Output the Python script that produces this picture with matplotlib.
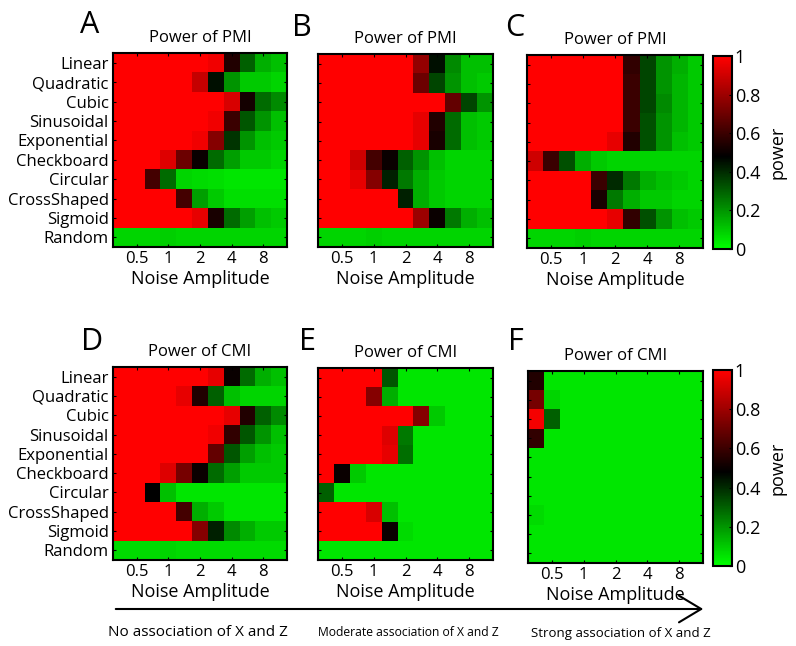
import numpy as np
import matplotlib
matplotlib.use("Agg")
from matplotlib import pyplot as plt
from matplotlib.colors import LinearSegmentedColormap

plt.rcParams['font.family'] = ['Open Sans', 'DejaVu Sans']

relations = ["Linear", "Quadratic", "Cubic", "Sinusoidal", "Exponential",
             "Checkboard", "Circular", "CrossShaped", "Sigmoid", "Random"]
tick_pos = [1, 3, 5, 7, 9]
tick_labels = ["0.5", "1", "2", "4", "8"]

# power values, rows = relations, columns = 11 noise levels
pmi_none = [
    [1, 1, 1, 1, 1, 1, .97, .55, .30, .15, .12],
    [1, 1, 1, 1, 1, .88, .45, .20, .10, .10, .08],
    [1, 1, 1, 1, 1, 1, 1, .92, .52, .28, .22],
    [1, 1, 1, 1, 1, 1, .97, .60, .32, .20, .12],
    [1, 1, 1, 1, 1, .97, .75, .38, .20, .12, .10],
    [1, 1, 1, .93, .70, .50, .28, .18, .10, .10, .08],
    [1, 1, .62, .28, .08, .07, .06, .05, .05, .05, .05],
    [1, 1, 1, 1, .62, .18, .10, .06, .06, .06, .06],
    [1, 1, 1, 1, 1, .95, .53, .28, .18, .12, .10],
    [.08, .08, .08, .09, .08, .08, .08, .08, .08, .08, .08],
]
pmi_mod = [
    [1, 1, 1, 1, 1, 1, .78, .45, .22, .12, .12],
    [1, 1, 1, 1, 1, 1, .70, .35, .20, .12, .10],
    [1, 1, 1, 1, 1, 1, 1, 1, .68, .35, .20],
    [1, 1, 1, 1, 1, 1, .95, .55, .28, .12, .10],
    [1, 1, 1, 1, 1, 1, .95, .53, .28, .12, .10],
    [1, 1, .90, .62, .50, .30, .20, .12, .08, .08, .08],
    [1, 1, .95, .75, .42, .25, .15, .10, .08, .08, .08],
    [1, 1, 1, 1, 1, .42, .15, .10, .08, .08, .08],
    [1, 1, 1, 1, 1, 1, .80, .50, .25, .15, .12],
    [.08, .08, .08, .09, .08, .08, .08, .08, .08, .08, .08],
]
pmi_strong = [
    [1, 1, 1, 1, 1, 1, .58, .35, .20, .15, .10],
    [1, 1, 1, 1, 1, 1, .60, .35, .20, .14, .10],
    [1, 1, 1, 1, 1, 1, .60, .35, .22, .14, .10],
    [1, 1, 1, 1, 1, 1, .60, .33, .20, .14, .10],
    [1, 1, 1, 1, 1, .95, .55, .33, .20, .12, .10],
    [.90, .60, .33, .15, .10, .08, .08, .08, .08, .08, .08],
    [1, 1, 1, 1, .60, .40, .25, .15, .12, .10, .08],
    [1, 1, 1, 1, .53, .25, .15, .10, .10, .08, .08],
    [1, 1, 1, 1, 1, .95, .58, .33, .20, .12, .10],
    [.08, .08, .08, .09, .08, .08, .08, .08, .08, .08, .08],
]
cmi_none = [
    [1, 1, 1, 1, 1, 1, .95, .50, .28, .15, .12],
    [1, 1, 1, 1, .95, .55, .30, .12, .08, .08, .08],
    [1, 1, 1, 1, 1, 1, 1, .95, .55, .30, .22],
    [1, 1, 1, 1, 1, 1, .97, .58, .32, .20, .12],
    [1, 1, 1, 1, 1, 1, .68, .32, .18, .12, .10],
    [1, 1, 1, .93, .72, .50, .28, .18, .10, .10, .10],
    [1, 1, .48, .12, .05, .05, .05, .05, .05, .05, .05],
    [1, 1, 1, 1, .62, .15, .10, .05, .05, .05, .05],
    [1, 1, 1, 1, 1, .75, .42, .22, .15, .10, .10],
    [.07, .07, .07, .08, .07, .07, .07, .07, .07, .07, .07],
]
cmi_mod = [
    [1, 1, 1, 1, .32, .05, .05, .05, .05, .05, .05],
    [1, 1, 1, .75, .15, .05, .05, .05, .05, .05, .05],
    [1, 1, 1, 1, 1, 1, .75, .10, .05, .05, .05],
    [1, 1, 1, 1, .93, .25, .05, .05, .05, .05, .05],
    [1, 1, 1, 1, .95, .27, .05, .05, .05, .05, .05],
    [1, .50, .10, .05, .05, .05, .05, .05, .05, .05, .05],
    [.30, .05, .05, .05, .05, .05, .05, .05, .05, .05, .05],
    [1, 1, 1, .92, .12, .05, .05, .05, .05, .05, .05],
    [1, 1, 1, 1, .50, .07, .05, .05, .05, .05, .05],
    [.05, .05, .05, .05, .05, .05, .05, .05, .05, .05, .05],
]
cmi_strong = [
    [.55, .05, .05, .05, .05, .05, .05, .05, .05, .05, .05],
    [.72, .08, .05, .05, .05, .05, .05, .05, .05, .05, .05],
    [.98, .30, .05, .05, .05, .05, .05, .05, .05, .05, .05],
    [.58, .05, .05, .05, .05, .05, .05, .05, .05, .05, .05],
    [.05, .05, .05, .05, .05, .05, .05, .05, .05, .05, .05],
    [.05, .05, .05, .05, .05, .05, .05, .05, .05, .05, .05],
    [.05, .05, .05, .05, .05, .05, .05, .05, .05, .05, .05],
    [.07, .05, .05, .05, .05, .05, .05, .05, .05, .05, .05],
    [.05, .05, .05, .05, .05, .05, .05, .05, .05, .05, .05],
    [.05, .05, .05, .05, .05, .05, .05, .05, .05, .05, .05],
]

cmap = LinearSegmentedColormap.from_list(
    "rg", [(0, (0, 1, 0)), (0.48, (0, 0, 0)), (1, (1, 0, 0))])

W, H = 796, 646
fig = plt.figure(figsize=(W / 100, H / 100), dpi=100)


def box(x0, y0, x1, y1):
    # pixel box (top-left origin) -> figure fraction
    return [x0 / W, 1 - y1 / H, (x1 - x0) / W, (y1 - y0) / H]


panels = [
    ("A", "Power of PMI", pmi_none, (113, 53, 287, 247), (90, 25), True),
    ("B", "Power of PMI", pmi_mod, (318, 54, 493, 247), (302, 28), False),
    ("C", "Power of PMI", pmi_strong, (527, 55, 703, 248), (515, 28), False),
    ("D", "Power of CMI", cmi_none, (113, 367, 287, 560), (92, 342), True),
    ("E", "Power of CMI", cmi_mod, (318, 368, 493, 560), (307, 342), False),
    ("F", "Power of CMI", cmi_strong, (528, 371, 703, 563), (516, 342), False),
]

for letter, title, data, b, lpos, ylab in panels:
    ax = fig.add_axes(box(*b))
    im = ax.imshow(np.array(data), cmap=cmap, vmin=0, vmax=1,
                   aspect='auto', interpolation='nearest')
    ax.set_xticks(tick_pos)
    ax.set_xticklabels(tick_labels, fontsize=12)
    ax.set_yticks(range(len(relations)))
    if ylab:
        ax.set_yticklabels(relations, fontsize=12)
    else:
        ax.set_yticklabels([])
    ax.tick_params(direction='in', length=2, width=0.8, top=True, right=True, pad=3)
    for s in ax.spines.values():
        s.set_linewidth(1.5)
    ax.set_xlabel("Noise Amplitude", fontsize=13, labelpad=2)
    ax.set_title(title, fontsize=12, pad=8)
    fig.text(lpos[0] / W, 1 - lpos[1] / H, letter, fontsize=22,
             ha='center', va='center')

for y0, y1 in [(56, 249), (370, 566)]:
    cax = fig.add_axes(box(713, y0, 732, y1))
    cb = fig.colorbar(im, cax=cax, ticks=[0, 0.2, 0.4, 0.6, 0.8, 1])
    cb.ax.set_yticklabels(["0", "0.2", "0.4", "0.6", "0.8", "1"], fontsize=13)
    cb.ax.tick_params(direction='in', length=2, pad=2)
    cb.outline.set_linewidth(1.5)
    cb.set_label("power", fontsize=13, labelpad=6)

fig.add_artist(matplotlib.patches.FancyArrowPatch(
    (113 / W, 1 - 609 / H), (706 / W, 1 - 609 / H), transform=fig.transFigure,
    arrowstyle='->,head_length=1.0,head_width=0.6', mutation_scale=16,
    color='black', linewidth=1.5))
fig.text(198 / W, 1 - 633 / H, "No association of X and Z", fontsize=11,
         ha='center', va='center')
fig.text(408 / W, 1 - 633 / H, "Moderate association of X and Z", fontsize=8.7,
         ha='center', va='center')
fig.text(621 / W, 1 - 633 / H, "Strong association of X and Z", fontsize=9.5,
         ha='center', va='center')

fig.savefig("out.png", dpi=100)
